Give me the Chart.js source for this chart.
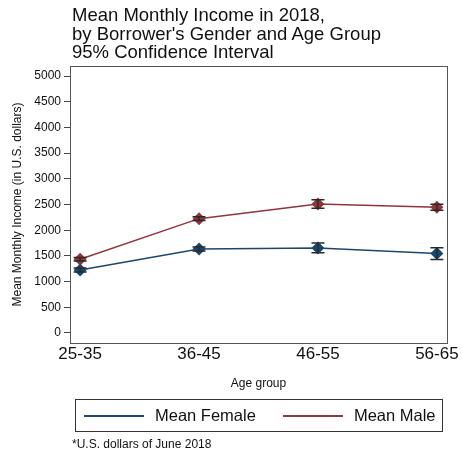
<!DOCTYPE html>
<html>
<head>
<meta charset="utf-8">
<script src="https://cdn.jsdelivr.net/npm/chart.js@4.4.1/dist/chart.umd.min.js"></script>
<style>
  body { margin: 0; background: #fff; font-family: "Liberation Sans", Arial, sans-serif; }
  #wrap { position: relative; width: 462px; height: 455px; overflow: hidden; }
  #titulo { position: absolute; left: 72px; top: 6px; font-size: 18.5px; line-height: 18.5px; color: #111; }
  #grafico { position: absolute; left: 0; top: 0; }
  #legenda { position: absolute; left: 75px; top: 399px; width: 366px; height: 31px; border: 1px solid #333;
             display: flex; align-items: center; font-size: 16.5px; color: #111; }
  .item { display: flex; align-items: center; }
  .linha { display: block; width: 60px; height: 2px; margin: 0 11px 0 8px; }
  #nota { position: absolute; left: 72px; top: 437px; font-size: 12px; color: #111; }
</style>
</head>
<body>
<div id="wrap">
  <canvas id="grafico" width="462" height="400"></canvas>
  <div id="titulo">Mean Monthly Income in 2018,<br>by Borrower's Gender and Age Group<br>95% Confidence Interval</div>
  <div id="legenda"></div>
  <div id="nota">*U.S. dollars of June 2018</div>
</div>
<script>
const faixasEtarias = ["25-35", "36-45", "46-55", "56-65"];
const mediaFeminino = [1225, 1635, 1655, 1545];
const icFemMin      = [1185, 1595, 1560, 1430];
const icFemMax      = [1265, 1675, 1750, 1660];
const mediaMasculino = [1435, 2225, 2510, 2445];
const icMascMin      = [1400, 2190, 2425, 2390];
const icMascMax      = [1470, 2260, 2590, 2505];
const ticksY = [0, 500, 1000, 1500, 2000, 2500, 3000, 3500, 4000, 4500, 5000];

const series = [
  { nome: "Mean Female", cor: "#1a476f", media: mediaFeminino, min: icFemMin, max: icFemMax },
  { nome: "Mean Male",   cor: "#90353b", media: mediaMasculino, min: icMascMin, max: icMascMax }
];

// legenda em HTML
const leg = document.getElementById("legenda");
series.forEach((s, i) => {
  const el = document.createElement("div");
  el.className = "item";
  el.style.marginRight = i === 0 ? "19px" : "0";
  el.innerHTML = `<span class="linha" style="background-color:${s.cor}"></span><span>${s.nome}</span>`;
  leg.appendChild(el);
});

// borda da área do gráfico
const moldura = {
  id: "moldura",
  afterDraw(chart) {
    const { ctx, chartArea: a } = chart;
    ctx.save();
    ctx.strokeStyle = "#555";
    ctx.lineWidth = 1;
    ctx.strokeRect(Math.round(a.left) + 0.5, Math.round(a.top) + 0.5, Math.round(a.right - a.left), Math.round(a.bottom - a.top));
    ctx.restore();
  }
};

// barras de erro (IC 95%)
const barrasErro = {
  id: "barrasErro",
  afterDatasetsDraw(chart) {
    const { ctx, scales: { x, y } } = chart;
    ctx.save();
    ctx.strokeStyle = "#2a2a2a";
    ctx.lineWidth = 1.5;
    series.forEach(s => {
      s.media.forEach((v, i) => {
        const px = x.getPixelForValue(i);
        const y1 = y.getPixelForValue(s.min[i]);
        const y2 = y.getPixelForValue(s.max[i]);
        ctx.beginPath();
        ctx.moveTo(px, y1); ctx.lineTo(px, y2);
        ctx.moveTo(px - 6.5, y1); ctx.lineTo(px + 6.5, y1);
        ctx.moveTo(px - 6.5, y2); ctx.lineTo(px + 6.5, y2);
        ctx.stroke();
      });
    });
    ctx.restore();
  }
};

new Chart(document.getElementById("grafico").getContext("2d"), {
  type: "line",
  data: {
    datasets: series.map(s => ({
      label: s.nome,
      data: s.media.map((v, i) => ({ x: i, y: v })),
      borderColor: s.cor,
      backgroundColor: s.cor,
      borderWidth: 1.5,
      pointStyle: "rectRot",
      pointRadius: 6.5,
      pointBorderWidth: 0,
      tension: 0
    }))
  },
  options: {
    responsive: false,
    animation: false,
    layout: { padding: { top: 66, right: 15, bottom: 0, left: 10 } },
    plugins: { legend: { display: false }, tooltip: { enabled: false } },
    scales: {
      x: {
        type: "linear",
        min: -0.085,
        max: 3.085,
        afterBuildTicks: axis => { axis.ticks = faixasEtarias.map((g, i) => ({ value: i })); },
        afterFit: axis => { axis.height = 57; },
        ticks: {
          callback: v => faixasEtarias[v] ?? "",
          font: { family: "Liberation Sans", size: 17 },
          color: "#111",
          maxRotation: 0,
          padding: 1
        },
        grid: { display: false, drawTicks: false },
        border: { display: false },
        title: {
          display: true,
          text: "Age group",
          font: { family: "Liberation Sans", size: 12 },
          color: "#111",
          padding: { top: 0, bottom: 9 }
        }
      },
      y: {
        min: -195,
        max: 5195,
        afterBuildTicks: axis => { axis.ticks = ticksY.map(v => ({ value: v })); },
        afterFit: axis => { axis.width = 60; },
        ticks: {
          callback: v => String(v),
          font: { family: "Liberation Sans", size: 12 },
          color: "#111",
          padding: 3
        },
        grid: { drawOnChartArea: false, drawTicks: true, tickLength: 6, color: "#444" },
        border: { display: false },
        title: {
          display: true,
          text: "Mean Monthly Income (in U.S. dollars)",
          font: { family: "Liberation Sans", size: 12 },
          color: "#111",
          padding: { top: 0, bottom: 4 }
        }
      }
    }
  },
  plugins: [moldura, barrasErro]
});
</script>
</body>
</html>
